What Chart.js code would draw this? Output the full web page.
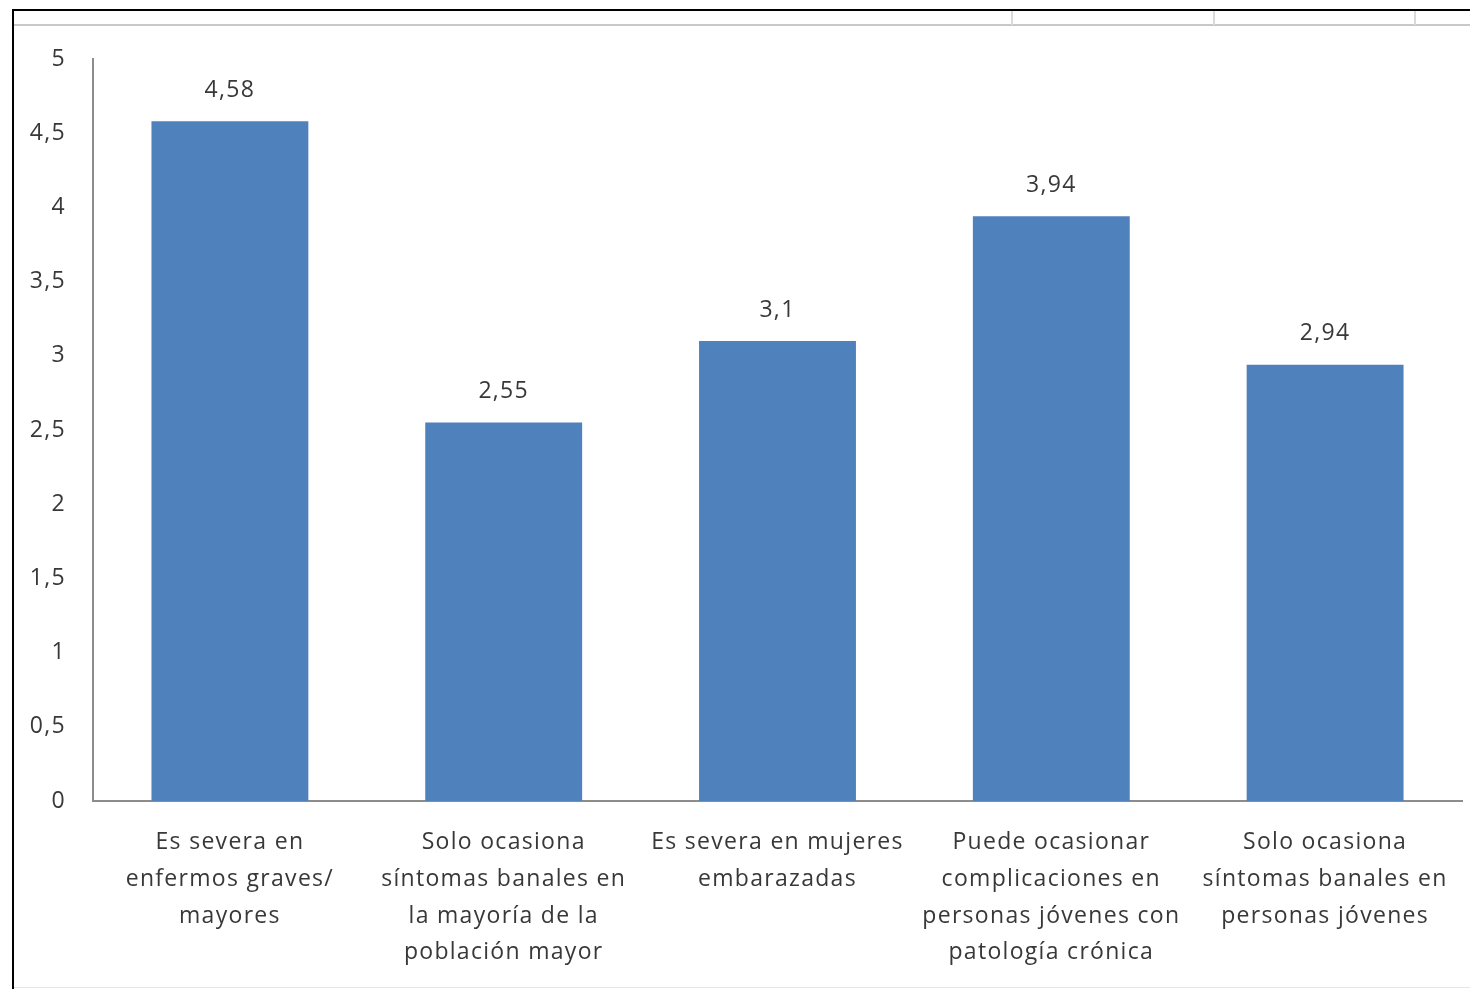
<!DOCTYPE html>
<html>
<head>
<meta charset="utf-8">
<script src="https://cdn.jsdelivr.net/npm/chart.js@4.4.1/dist/chart.umd.min.js"></script>
<style>
  html, body { margin: 0; padding: 0; background: #fff; }
  body { width: 1470px; height: 989px; position: relative; overflow: hidden; }
  #wrap { position: absolute; left: 0; top: 0; width: 1470px; height: 989px; }
  .ln { position: absolute; }
</style>
</head>
<body>
<div id="wrap"><canvas id="c" width="1470" height="989"></canvas></div>
<div class="ln" style="left:12px;top:9px;width:1458px;height:2px;background:#000;"></div>
<div class="ln" style="left:12px;top:9px;width:2px;height:980px;background:#000;"></div>
<div class="ln" style="left:14px;top:24px;width:1456px;height:2px;background:#c8c8c8;"></div>
<div class="ln" style="left:1011px;top:11px;width:2px;height:14px;background:#dadada;"></div>
<div class="ln" style="left:1213px;top:11px;width:2px;height:14px;background:#dadada;"></div>
<div class="ln" style="left:1414px;top:11px;width:2px;height:14px;background:#dadada;"></div>
<div class="ln" style="left:14px;top:987px;width:1456px;height:1px;background:#e6e6e6;"></div>
<script>
const categories = [
  ["Es severa en", "enfermos graves/", "mayores"],
  ["Solo ocasiona", "síntomas banales en", "la mayoría de la", "población mayor"],
  ["Es severa en mujeres", "embarazadas"],
  ["Puede ocasionar", "complicaciones en", "personas jóvenes con", "patología crónica"],
  ["Solo ocasiona", "síntomas banales en", "personas jóvenes"]
];
const values = [4.58, 2.55, 3.1, 3.94, 2.94];
const yTicks = [0, 0.5, 1, 1.5, 2, 2.5, 3, 3.5, 4, 4.5, 5];

const FONT = "'Open Sans', Lato, sans-serif";
const TXT = "#383838";
const fmt = v => String(v).replace('.', ',');

const spacing = {
  id: 'spacing',
  beforeDraw(chart) { chart.ctx.letterSpacing = '1.3px'; }
};

const dataLabels = {
  id: 'dataLabels',
  afterDatasetsDraw(chart) {
    const ctx = chart.ctx;
    const meta = chart.getDatasetMeta(0);
    ctx.save();
    ctx.font = "23px " + FONT;
    ctx.fillStyle = TXT;
    ctx.textAlign = 'center';
    ctx.textBaseline = 'middle';
    meta.data.forEach((bar, i) => {
      ctx.fillText(fmt(values[i]), bar.x, bar.y - 31);
    });
    ctx.restore();
  }
};

new Chart(document.getElementById('c'), {
  type: 'bar',
  data: {
    labels: categories,
    datasets: [{
      data: values,
      backgroundColor: '#4F81BD',
      borderWidth: 0,
      barPercentage: 0.573,
      categoryPercentage: 1.0
    }]
  },
  options: {
    responsive: false,
    animation: false,
    devicePixelRatio: 1,
    layout: { padding: { top: 59, right: 8, left: 14, bottom: 0 } },
    plugins: { legend: { display: false }, tooltip: { enabled: false } },
    scales: {
      x: {
        grid: { display: false, drawTicks: false },
        border: { display: true, color: '#8c8c8c', width: 2 },
        ticks: {
          color: TXT,
          font: { family: FONT, size: 23, lineHeight: 1.6 },
          padding: 23,
          maxRotation: 0,
          autoSkip: false
        },
        afterFit(scale) { scale.height = 188; }
      },
      y: {
        min: 0, max: 5,
        afterBuildTicks(scale) { scale.ticks = yTicks.map(v => ({ value: v })); },
        grid: { display: false, drawTicks: false },
        border: { display: true, color: '#8c8c8c', width: 2 },
        ticks: {
          color: TXT,
          font: { family: FONT, size: 23 },
          padding: 27,
          callback: v => fmt(v)
        },
        afterFit(scale) { scale.width = 79; }
      }
    }
  },
  plugins: [spacing, dataLabels]
});
</script>
</body>
</html>
